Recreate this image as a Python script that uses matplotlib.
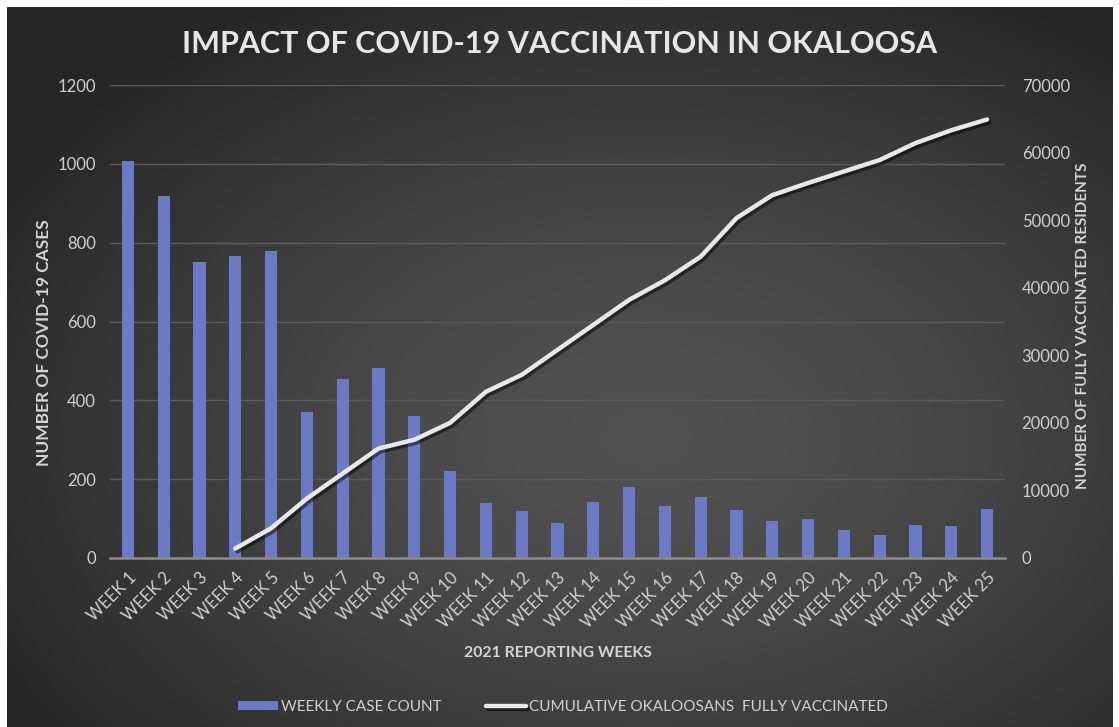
import numpy as np
import matplotlib
matplotlib.use('Agg')
import matplotlib.pyplot as plt
import matplotlib.patheffects as pe

plt.rcParams['font.family'] = ['Lato', 'DejaVu Sans']

weeks = ['WEEK %d' % i for i in range(1, 26)]
cases = [1008, 918, 750, 767, 778, 370, 453, 481, 360, 220,
         139, 118, 88, 142, 181, 132, 156, 122, 94, 98,
         70, 59, 84, 80, 125]
vaccinated = [np.nan, np.nan, np.nan, 1400, 4400, 8800, 12500, 16200, 17500, 20000,
              24600, 27100, 30800, 34500, 38200, 41100, 44600, 50300, 53700, 55500,
              57200, 58900, 61400, 63300, 64900]

W, H = 1119, 727
fig = plt.figure(figsize=(W / 100, H / 100), dpi=100, facecolor='white')

# dark radial gradient background
bg = fig.add_axes([7 / W, 0, (W - 13) / W, (H - 7) / H], zorder=-5)
yy, xx = np.mgrid[0:720, 0:1106]
d = np.sqrt(((xx - 640) / 740.0) ** 2 + ((yy - 430) / 500.0) ** 2)
shade = 0.32 - 0.17 * np.clip(d, 0, 1) ** 1.5
bg.imshow(np.dstack([shade] * 3), aspect='auto', extent=[0, 1, 0, 1])
bg.axis('off')

ax = fig.add_axes([110 / W, 1 - 558 / H, 895 / W, 473 / H])
ax.set_facecolor('none')
x = np.arange(len(weeks))
bars = ax.bar(x, cases, width=0.34, color='#6C7AC6', zorder=3,
              label='WEEKLY CASE COUNT')
ax.set_xlim(-0.5, len(weeks) - 0.5)
ax.set_ylim(0, 1200)
ax.set_yticks(range(0, 1201, 200))
ax.yaxis.grid(True, color='#5c5c5c', linewidth=1.0, zorder=0)
ax.set_axisbelow(True)
for s in ['top', 'left', 'right']:
    ax.spines[s].set_visible(False)
ax.spines['bottom'].set_color('#8c8c8c')
ax.spines['bottom'].set_linewidth(1.8)
ax.spines['bottom'].set_zorder(4)
ax.set_xticks(x)
ax.set_xticklabels(weeks, rotation=45, ha='right', rotation_mode='anchor')
ax.tick_params(axis='x', length=0, pad=8, labelsize=12, labelcolor='#cfcfcf')
ax.tick_params(axis='y', length=0, pad=10, labelsize=12, labelcolor='#cfcfcf')

ax2 = ax.twinx()
ax2.set_facecolor('none')
ln, = ax2.plot(x, vaccinated, color='#e8e8e8', linewidth=3.2,
               solid_joinstyle='round', solid_capstyle='round', zorder=5,
               label='CUMULATIVE OKALOOSANS  FULLY VACCINATED',
               path_effects=[pe.SimpleLineShadow(offset=(1.5, -2), shadow_color='black', alpha=0.5),
                             pe.Normal()])
ax2.set_ylim(0, 70000)
ax2.set_yticks(range(0, 70001, 10000))
for s in ['top', 'left', 'right', 'bottom']:
    ax2.spines[s].set_visible(False)
ax2.tick_params(axis='y', length=0, pad=12, labelsize=12, labelcolor='#cfcfcf')

fig.text(560 / W, 1 - 44 / H, 'IMPACT OF COVID-19 VACCINATION IN OKALOOSA',
         ha='center', va='center', fontsize=22, fontweight='bold', color='#e6e6e6')
fig.text(44 / W, 1 - 343 / H, 'NUMBER OF COVID-19 CASES', rotation=90,
         ha='center', va='center', fontsize=12.5, fontweight='bold', color='#d4d4d4')
fig.text(1083 / W, 1 - 326 / H, 'NUMBER OF FULLY VACCINATED RESIDENTS', rotation=90,
         ha='center', va='center', fontsize=11, fontweight='bold', color='#d4d4d4')
fig.text(558 / W, 1 - 653 / H, '2021 REPORTING WEEKS',
         ha='center', va='center', fontsize=11.3, fontweight='bold', color='#d4d4d4')

leg = fig.legend([bars, ln], [bars.get_label(), ln.get_label()],
                 loc='center', bbox_to_anchor=(563 / W, 1 - 707 / H), ncol=2,
                 frameon=False, fontsize=11, handlelength=2.6, handletextpad=0.2,
                 columnspacing=2.9, handleheight=0.6)
for t in leg.get_texts():
    t.set_color('#cfcfcf')

fig.savefig('out.png', dpi=100, facecolor='white')
